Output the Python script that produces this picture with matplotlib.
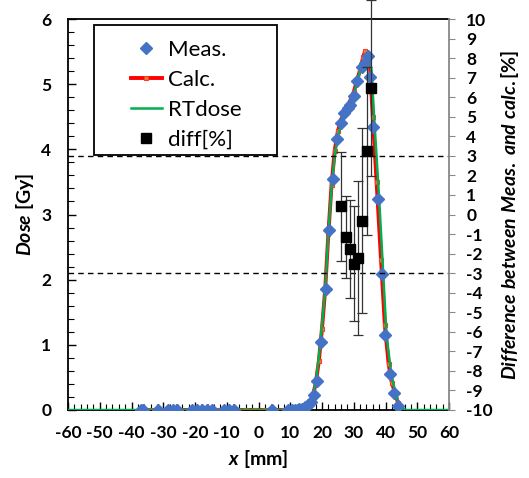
import matplotlib.pyplot as plt
from matplotlib.patches import Rectangle
from matplotlib.ticker import MultipleLocator
import numpy as np

plt.rcParams['font.family'] = ['Lato', 'DejaVu Sans']
plt.rcParams['mathtext.fontset'] = 'custom'
plt.rcParams['mathtext.it'] = 'Lato:italic:bold'
plt.rcParams['mathtext.rm'] = 'Lato:bold'
plt.rcParams['axes.unicode_minus'] = False

# measured profile
meas_x = [-37.0, -36.3, -31.7, -28.5, -26.9, -25.8, -21.0, -19.4, -17.8, -16.2, -14.6,
          -10.9, -9.3, -7.6, 4.1, 9.4, 10.5, 11.6, 12.6, 13.7, 14.8, 15.6, 16.5,
          17.4, 18.4, 19.6, 21.2, 22.1, 23.6, 24.8, 26.0, 27.0, 28.1, 28.8, 30.1,
          30.9, 32.5, 33.5, 34.6, 35.1, 36.2, 37.6, 38.9, 39.9, 41.4, 42.7, 44.0]
meas_y = [0.0, 0.0, 0.0, 0.0, 0.0, 0.0, 0.0, 0.0, 0.0, 0.0, 0.0,
          0.0, 0.0, 0.0, 0.0, 0.0, 0.0, 0.0, 0.01, 0.02, 0.04, 0.07, 0.13,
          0.23, 0.45, 1.04, 1.85, 2.76, 3.55, 4.16, 4.40, 4.55, 4.64, 4.68, 4.82,
          5.05, 5.27, 5.33, 5.43, 5.11, 4.35, 3.24, 2.08, 1.15, 0.56, 0.26, 0.06]

# calculated profile
calc_x = [-37.0, -34.0, -31.0, -28.0, -25.0, -22.0, -19.0, -16.0, -13.0, -10.0,
          -7.0, -4.0, -1.0, 2.0, 5.0, 8.0, 10.0, 12.0, 13.0, 14.0, 15.0, 16.0,
          17.0, 18.0, 19.0, 20.0, 21.0, 22.0, 23.0, 24.0, 25.0, 26.0, 27.0,
          28.0, 29.0, 30.0, 31.0, 32.0, 33.0, 33.6, 34.9, 36.0, 37.2, 38.6,
          39.8, 41.0, 42.0, 43.1, 44.0, 45.0]
calc_y = [0.0, 0.0, 0.0, 0.0, 0.0, 0.0, 0.0, 0.0, 0.0, 0.0,
          0.0, 0.0, 0.0, 0.0, 0.0, 0.0, 0.0, 0.01, 0.02, 0.03, 0.05, 0.09,
          0.2, 0.4, 0.75, 1.25, 1.85, 2.7, 3.45, 3.98, 4.28, 4.45, 4.57,
          4.66, 4.76, 4.88, 5.05, 5.22, 5.42, 5.51, 5.46, 4.5, 3.5, 2.3,
          1.3, 0.7, 0.42, 0.25, 0.1, 0.02]

# treatment planning dose
rt_x = [-60.0, 14.0, 15.0, 16.0, 17.0, 18.0, 19.0, 20.0, 21.0, 22.0, 23.0, 24.0,
        25.0, 26.0, 27.0, 28.0, 29.0, 30.0, 31.0, 32.0, 33.0, 34.0, 35.0, 35.6,
        36.6, 38.0, 39.3, 40.3, 41.8, 43.1, 44.4, 45.5, 46.5, 60.0]
rt_y = [0.0, 0.0, 0.03, 0.08, 0.2, 0.42, 0.8, 1.3, 1.85, 2.7, 3.4, 3.9,
        4.2, 4.4, 4.53, 4.63, 4.72, 4.84, 5.02, 5.2, 5.3, 5.38, 5.4, 5.2,
        4.35, 3.24, 2.08, 1.15, 0.56, 0.26, 0.08, 0.02, 0.0, 0.0]

# difference [%] with error bars
diff_x = [26.0, 27.5, 28.7, 30.2, 31.4, 32.7, 34.1, 35.3]
diff_y = [0.41, -1.16, -1.75, -2.52, -2.23, -0.31, 3.23, 6.46]
diff_err = [2.8, 2.1, 2.5, 2.95, 3.95, 4.75, 4.3, 4.5]

fig = plt.figure(figsize=(5.29, 4.78), dpi=100)
ax = fig.add_axes([68/529, 1-410/478, 381/529, 391/478])

l_calc, = ax.plot(calc_x, calc_y, color='#FF0000', lw=2.8, marker='s', ms=3.5,
                  mfc='#ED7D31', mec='#FF3B1F', mew=0.8, zorder=2, label='Calc.')
l_rt, = ax.plot(rt_x, rt_y, color='#00B050', lw=1.8, zorder=3, label='RTdose')
l_meas, = ax.plot(meas_x, meas_y, ls='none', marker='D', ms=6.5, color='#4472C4',
                  zorder=4, label='Meas.')

ax.set_xlim(-60, 60)
ax.set_ylim(0, 6)
ax.xaxis.set_major_locator(MultipleLocator(10))
ax.xaxis.set_minor_locator(MultipleLocator(2))
ax.yaxis.set_major_locator(MultipleLocator(1))
ax.yaxis.set_minor_locator(MultipleLocator(0.2))
ax.tick_params(axis='both', which='major', direction='in', length=6, width=1,
               labelsize=12.5)
ax.tick_params(axis='both', which='minor', direction='in', length=4, width=0.8)
ax.tick_params(axis='x', which='major', pad=11)
ax.tick_params(axis='y', which='major', pad=12)
for lab in ax.get_xticklabels() + ax.get_yticklabels():
    lab.set_fontweight('bold')
for s in ['left', 'bottom', 'top']:
    ax.spines[s].set_linewidth(1.3)
ax.spines['right'].set_visible(False)

ax.set_xlabel('$x$ [mm]', fontsize=14, fontweight='bold', labelpad=5)
ax.set_ylabel('$Dose$ [Gy]', fontsize=14, fontweight='bold', labelpad=4)

ax2 = ax.twinx()
ax2.set_ylim(-10, 10)
ax2.yaxis.set_major_locator(MultipleLocator(1))
ax2.tick_params(axis='y', direction='out', length=4.5, color='#888888',
                labelsize=12.5, pad=8)
for lab in ax2.get_yticklabels():
    lab.set_fontweight('bold')
ax2.spines['right'].set_color('#888888')
ax2.spines['right'].set_linewidth(1.3)
for s in ['left', 'bottom', 'top']:
    ax2.spines[s].set_visible(False)

ax2.axhline(3, color='black', ls=(0, (4, 3)), lw=1, zorder=1)
ax2.axhline(-3, color='black', ls=(0, (4, 3)), lw=1, zorder=1)

eb = ax2.errorbar(diff_x, diff_y, yerr=diff_err, fmt='s', ms=7, color='black',
                  ecolor='#333333', elinewidth=0.9, capsize=3.5, capthick=0.9,
                  zorder=5, label='diff[%]')
for art in eb.lines[2]:
    art.set_clip_on(False)
for art in eb.lines[1]:
    art.set_clip_on(False)

ax2.set_ylabel('$Difference\\ between\\ Meas.\\ and\\ calc.$[%]', fontsize=14,
               fontweight='bold', labelpad=4)

# legend box
box = Rectangle(((94-68)/381, (410-155)/391), (277-94)/381, (155-25)/391,
                transform=ax2.transAxes, facecolor='white', edgecolor='black',
                lw=1.3, zorder=6)
ax2.add_patch(box)
diff_handle = plt.Line2D([], [], ls='none', marker='s', ms=7, color='black')
leg = ax2.legend([l_meas, l_calc, l_rt, diff_handle],
                 ['Meas.', 'Calc.', 'RTdose', 'diff[%]'],
                 loc='upper left', bbox_to_anchor=((115-68)/381, (410-24)/391),
                 frameon=False, fontsize=16, handlelength=1.4, handletextpad=0.3,
                 labelspacing=0.45, borderpad=0.2)
leg.set_zorder(7)

fig.savefig('out.png', dpi=100)
